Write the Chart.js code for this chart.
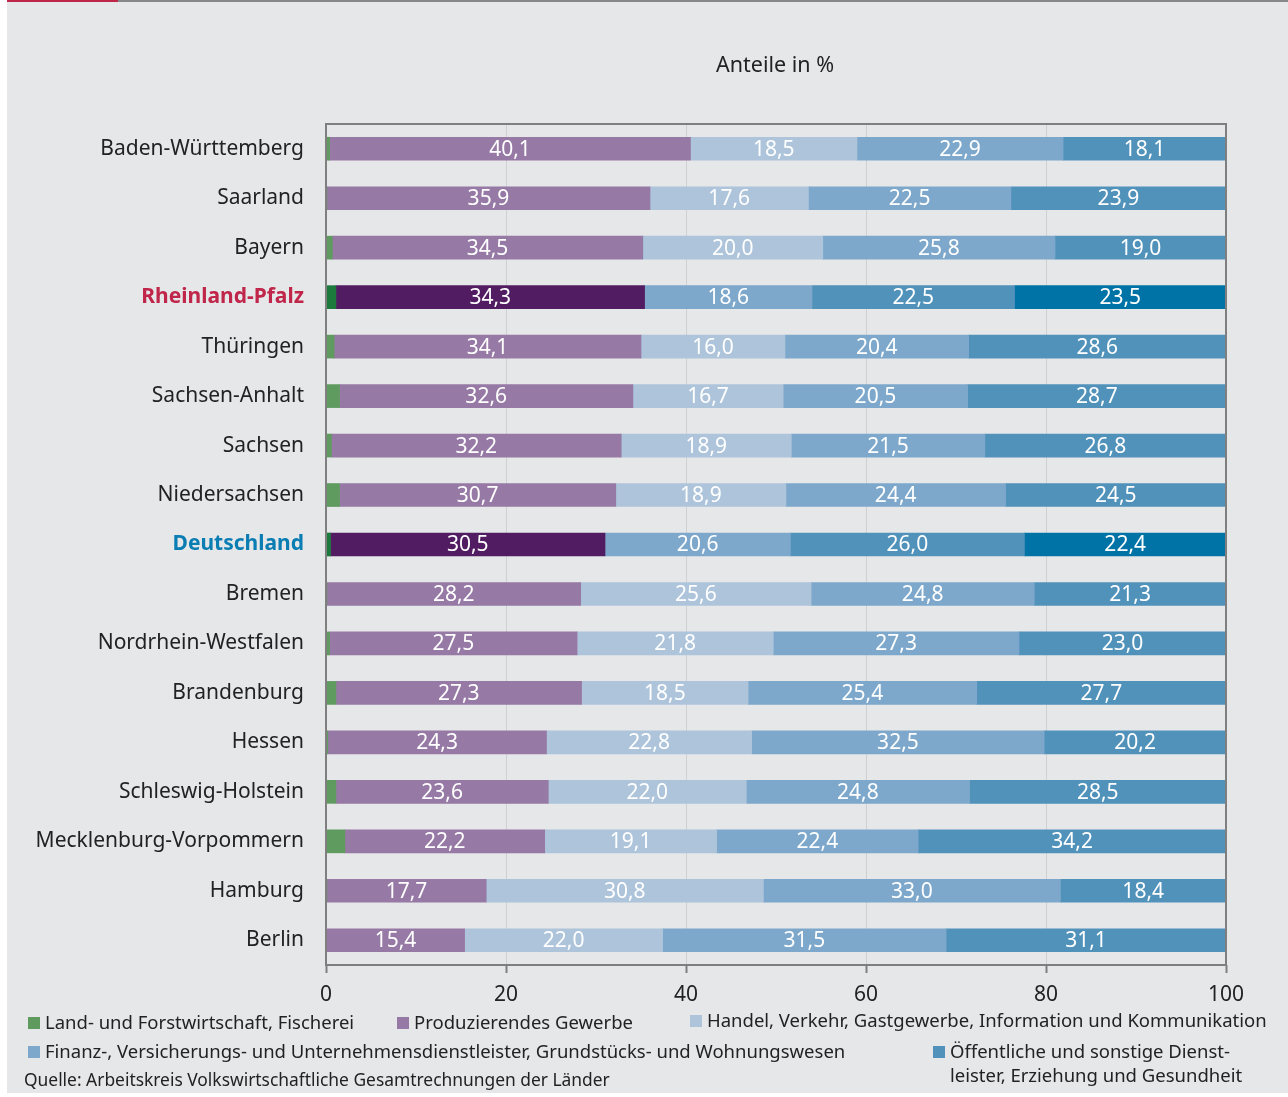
<!DOCTYPE html>
<html lang="de">
<head>
<meta charset="utf-8">
<title>Anteile in %</title>
<script src="https://cdn.jsdelivr.net/npm/chart.js@4.4.1/dist/chart.umd.min.js"></script>
<style>
  html, body { margin: 0; padding: 0; background: #fff; }
  #page {
    position: relative; width: 1288px; height: 1097px; overflow: hidden;
    font-family: "Noto Sans", sans-serif; color: #222;
  }
  #panel { position: absolute; left: 7px; top: 0; right: 0; bottom: 4px; background: #e6e7e9; }
  #topline { position: absolute; left: 7px; top: 0; right: 0; height: 2px; background: #87888a; }
  #topline span { position: absolute; left: 0; top: 0; width: 111px; height: 2px; background: #c0254a; }
  #chart { position: absolute; left: 0; top: 0; }
  .title { position: absolute; left: 716px; top: 49px; font-size: 21.5px; }
  .leg { position: absolute; font-size: 18.5px; white-space: nowrap; line-height: 24px; }
  .leg i { display: inline-block; width: 12px; height: 12px; margin-right: 5px; vertical-align: 0px; }
  .src { position: absolute; left: 24px; top: 1067px; font-size: 17.4px; white-space: nowrap; }
</style>
</head>
<body>
<div id="page">
  <div id="panel"></div>
  <div id="topline"><span></span></div>
  <canvas id="chart" width="1288" height="1097"></canvas>
  <div class="title">Anteile in %</div>
  <div class="leg" style="left:28px;top:1010px"><i style="background:#5f9a5f"></i>Land- und Forstwirtschaft, Fischerei</div>
  <div class="leg" style="left:397px;top:1010px"><i style="background:#9679a5"></i>Produzierendes Gewerbe</div>
  <div class="leg" style="left:690px;top:1008px"><i style="background:#adc4db"></i>Handel, Verkehr, Gastgewerbe, Information und Kommunikation</div>
  <div class="leg" style="left:28px;top:1039px"><i style="background:#7da8cb"></i>Finanz-, Versicherungs- und Unternehmensdienstleister, Grundstücks- und Wohnungswesen</div>
  <div class="leg" style="left:933px;top:1039px"><i style="background:#5192bb"></i>Öffentliche und sonstige Dienst-<br><span style="padding-left:17px">leister, Erziehung und Gesundheit</span></div>
  <div class="src">Quelle: Arbeitskreis Volkswirtschaftliche Gesamtrechnungen der Länder</div>
</div>
<script>
const laender = ['Baden-Württemberg', 'Saarland', 'Bayern', 'Rheinland-Pfalz', 'Thüringen', 'Sachsen-Anhalt',
  'Sachsen', 'Niedersachsen', 'Deutschland', 'Bremen', 'Nordrhein-Westfalen', 'Brandenburg', 'Hessen',
  'Schleswig-Holstein', 'Mecklenburg-Vorpommern', 'Hamburg', 'Berlin'];

// Anteile der Wirtschaftsbereiche in %
const landwirtschaft = [0.4, 0.1, 0.7, 1.1, 0.9, 1.5, 0.6, 1.5, 0.5, 0.1, 0.4, 1.1, 0.2, 1.1, 2.1, 0.1, 0.0];
const produzierend = [40.1, 35.9, 34.5, 34.3, 34.1, 32.6, 32.2, 30.7, 30.5, 28.2, 27.5, 27.3, 24.3, 23.6, 22.2, 17.7, 15.4];
const handel = [18.5, 17.6, 20.0, 18.6, 16.0, 16.7, 18.9, 18.9, 20.6, 25.6, 21.8, 18.5, 22.8, 22.0, 19.1, 30.8, 22.0];
const finanz = [22.9, 22.5, 25.8, 22.5, 20.4, 20.5, 21.5, 24.4, 26.0, 24.8, 27.3, 25.4, 32.5, 24.8, 22.4, 33.0, 31.5];
const oeffentlich = [18.1, 23.9, 19.0, 23.5, 28.6, 28.7, 26.8, 24.5, 22.4, 21.3, 23.0, 27.7, 20.2, 28.5, 34.2, 18.4, 31.1];

const xTicks = [0, 20, 40, 60, 80, 100];

// hervorgehobene Zeilen
const hervorgehoben = { 'Rheinland-Pfalz': '#c0254a', 'Deutschland': '#0a7db3' };

function farben(normal, hell) {
  return laender.map(l => (l in hervorgehoben ? hell : normal));
}

const serien = [
  { label: 'Land- und Forstwirtschaft, Fischerei', data: landwirtschaft, backgroundColor: farben('#5f9a5f', '#1b7a3c') },
  { label: 'Produzierendes Gewerbe', data: produzierend, backgroundColor: farben('#9679a5', '#521c63') },
  { label: 'Handel, Verkehr, Gastgewerbe, Information und Kommunikation', data: handel, backgroundColor: farben('#adc4db', '#7da8cb') },
  { label: 'Finanz-, Versicherungs- und Unternehmensdienstleister, Grundstücks- und Wohnungswesen', data: finanz, backgroundColor: farben('#7da8cb', '#5192bb') },
  { label: 'Öffentliche und sonstige Dienstleister, Erziehung und Gesundheit', data: oeffentlich, backgroundColor: farben('#5192bb', '#0073a6') }
];

// Rahmen um die Zeichenfläche
const rahmen = {
  id: 'rahmen',
  afterDraw(chart) {
    const { ctx, chartArea: a } = chart;
    ctx.save();
    ctx.strokeStyle = '#7f7f7f';
    ctx.lineWidth = 2;
    ctx.strokeRect(a.left, a.top, a.right - a.left, a.bottom - a.top);
    ctx.restore();
  }
};

// Werte in die Balken schreiben (ohne Landwirtschaft)
const werte = {
  id: 'werte',
  afterDatasetsDraw(chart) {
    const ctx = chart.ctx;
    ctx.save();
    ctx.fillStyle = '#fff';
    ctx.font = '21px "Noto Sans", sans-serif';
    ctx.textAlign = 'center';
    ctx.textBaseline = 'middle';
    chart.data.datasets.forEach((ds, di) => {
      if (di === 0) return;
      chart.getDatasetMeta(di).data.forEach((bar, i) => {
        const txt = ds.data[i].toFixed(1).replace('.', ',');
        ctx.fillText(txt, (bar.x + bar.base) / 2, bar.y + 1);
      });
    });
    ctx.restore();
  }
};

new Chart(document.getElementById('chart'), {
  type: 'bar',
  data: { labels: laender, datasets: serien },
  options: {
    indexAxis: 'y',
    responsive: false,
    animation: false,
    layout: { padding: { left: 0, top: 124, right: 62, bottom: 88 } },
    datasets: {
      bar: { barThickness: 23, borderWidth: 0 }
    },
    scales: {
      x: {
        stacked: true,
        min: 0,
        max: 100,
        afterBuildTicks(scale) { scale.ticks = xTicks.map(v => ({ value: v })); },
        afterFit(scale) { scale.height = 44; },
        grid: { color: '#cfd0d2', lineWidth: 1, tickLength: 8, tickColor: '#7f7f7f', tickWidth: 2 },
        border: { display: false },
        ticks: { color: '#222', font: { family: 'Noto Sans', size: 21 }, padding: 9 }
      },
      y: {
        stacked: true,
        afterFit(scale) { scale.width = 326; },
        grid: { display: false, drawTicks: false },
        border: { display: false },
        ticks: {
          padding: 22,
          color: c => hervorgehoben[laender[c.index]] || '#222',
          font: c => ({ family: 'Noto Sans', size: 21, weight: laender[c.index] in hervorgehoben ? 'bold' : 'normal' })
        }
      }
    },
    plugins: {
      legend: { display: false },
      tooltip: { enabled: false }
    }
  },
  plugins: [rahmen, werte]
});
</script>
</body>
</html>
